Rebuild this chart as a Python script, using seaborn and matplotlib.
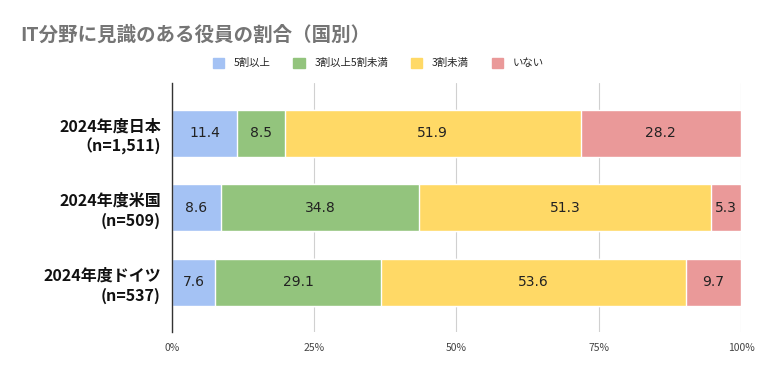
import numpy as np
import pandas as pd
import matplotlib.pyplot as plt
import seaborn as sns

# data
rows = ['2024年度日本\n（n=1,511)', '2024年度米国\n(n=509)', '2024年度ドイツ\n(n=537)']
series = ['5割以上', '3割以上5割未満', '3割未満', 'いない']
over50 = [11.4, 8.6, 7.6]
from30to50 = [8.5, 34.8, 29.1]
under30 = [51.9, 51.3, 53.6]
none = [28.2, 5.3, 9.7]
colors = ['#a4c2f4', '#93c47d', '#ffd966', '#ea9999']

sns.set_theme(style='white')
plt.rcParams['font.family'] = ['Noto Sans CJK JP', 'DejaVu Sans']

vals = np.array([over50, from30to50, under30, none])
cum = vals.cumsum(axis=0)

fig = plt.figure(figsize=(7.61, 3.71), dpi=100)
ax = fig.add_axes([0.226, 0.105, 0.7477, 0.671])

# stacked bars: draw cumulative totals from the back to the front
for i in reversed(range(len(series))):
    df = pd.DataFrame({'row': rows, 'value': cum[i]})
    sns.barplot(data=df, x='value', y='row', orient='h', color=colors[i],
                width=0.63, saturation=1, ax=ax, zorder=2)

# segment labels
for i in range(len(series)):
    for j in range(len(rows)):
        ax.text(cum[i][j] - vals[i][j] / 2, j, f'{vals[i][j]:.1f}',
                ha='center', va='center', fontsize=10, color='#222222',
                family='DejaVu Sans', zorder=5)

ax.set_xlim(0, 100)
ax.set_ylim(2.67, -0.67)
ax.set_xticks([0, 25, 50, 75, 100])
ax.set_xticklabels(['0%', '25%', '50%', '75%', '100%'], fontsize=7.5, color='#444444')
ax.set_yticks(range(len(rows)))
ax.set_yticklabels(rows, fontsize=11.5, fontweight='bold', color='#111111',
                   linespacing=1.3)
ax.tick_params(axis='both', length=0, pad=8)
ax.xaxis.grid(True, color='#d0d0d0', linewidth=0.8, zorder=0)
ax.set_xlabel('')
ax.set_ylabel('')
for s in ['top', 'right', 'bottom']:
    ax.spines[s].set_visible(False)
ax.spines['left'].set_color('#333333')
ax.spines['left'].set_linewidth(1)
ax.spines['left'].set_zorder(6)

handles = [plt.Rectangle((0, 0), 1, 1, color=c) for c in colors]
fig.legend(handles, series, loc='center', bbox_to_anchor=(0.497, 0.83), ncol=4,
           frameon=False, fontsize=7.5, handlelength=1.1, handleheight=1.1,
           columnspacing=2.2, handletextpad=0.9)

fig.text(0.026, 0.905, 'IT分野に見識のある役員の割合（国別）', fontsize=14,
         fontweight='bold', color='#757575', ha='left', va='center')

fig.savefig('out.png', dpi=100)
